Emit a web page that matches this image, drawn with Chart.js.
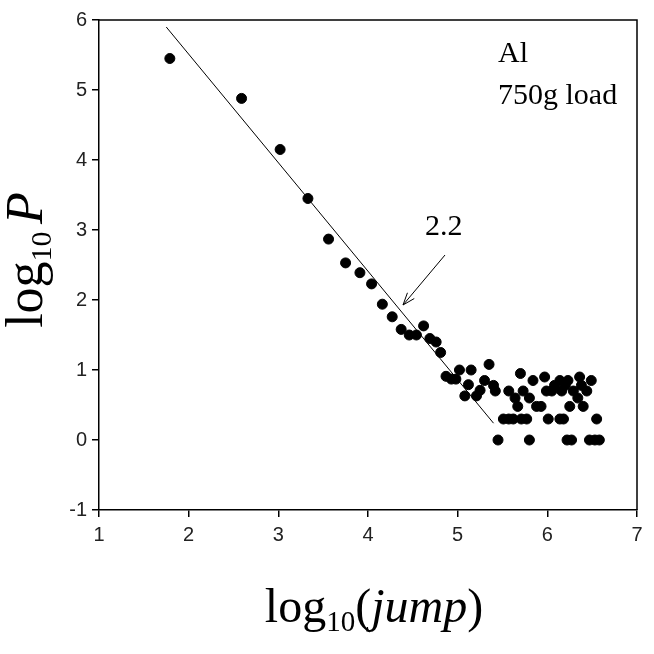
<!DOCTYPE html>
<html>
<head>
<meta charset="utf-8">
<script src="https://cdn.jsdelivr.net/npm/chart.js@4/dist/chart.umd.min.js"></script>
<style>
  html, body { margin: 0; padding: 0; background: #fff; }
  #wrap { width: 654px; height: 654px; }
</style>
</head>
<body>
<div id="wrap"><canvas id="jumpChart"></canvas></div>
<script>
// log10(jump) and log10(P)
const jumpX = [
  1.79, 2.59, 3.02, 3.33, 3.56, 3.75, 3.91, 4.04, 4.16, 4.27,
  4.37, 4.46, 4.54, 4.62, 4.69, 4.76, 4.81, 4.87, 4.93, 4.98,
  5.02, 5.08, 5.12, 5.15, 5.21, 5.25, 5.30, 5.35, 5.40, 5.42,
  5.45, 5.51, 5.57, 5.62, 5.71, 5.77, 6.01, 6.14, 6.18, 6.55,
  5.80, 6.22, 6.27, 6.47, 6.53, 6.58,
  5.57, 5.64, 5.67, 5.70, 5.73, 5.80, 5.84, 5.88, 5.93, 5.97,
  5.99, 6.05, 6.08, 6.14, 6.16, 6.20, 6.23, 6.25, 6.29, 6.34,
  6.36, 6.38, 6.40, 6.44, 6.49
];
const logP = [
  5.45, 4.88, 4.15, 3.45, 2.87, 2.53, 2.39, 2.23, 1.94, 1.76,
  1.58, 1.50, 1.50, 1.63, 1.45, 1.40, 1.25, 0.91, 0.87, 0.87,
  1.00, 0.63, 0.79, 1.00, 0.63, 0.71, 0.85, 1.08, 0.78, 0.70,
  0.00, 0.30, 0.30, 0.30, 0.30, 0.30, 0.30, 0.30, 0.30, 0.30,
  0.00, 0.00, 0.00, 0.00, 0.00, 0.00,
  0.70, 0.60, 0.48, 0.95, 0.70, 0.60, 0.85, 0.48, 0.48, 0.90,
  0.70, 0.70, 0.78, 0.85, 0.70, 0.78, 0.85, 0.48, 0.70, 0.60,
  0.90, 0.78, 0.48, 0.70, 0.85
];
// power-law fit line (slope label 2.2 on the figure)
const fitX = [1.75, 5.40];
const fitY = [5.90, 0.24];
const xTicks = [1, 2, 3, 4, 5, 6, 7];
const yTicks = [-1, 0, 1, 2, 3, 4, 5, 6];

const serif = '"Liberation Serif", "DejaVu Serif", serif';

function drawParts(ctx, parts, x, y) {
  let cx = x;
  parts.forEach(p => {
    ctx.font = p.font;
    ctx.fillText(p.text, cx, y + (p.dy || 0));
    cx += ctx.measureText(p.text).width;
  });
}
function partsWidth(ctx, parts) {
  let w = 0;
  parts.forEach(p => { ctx.font = p.font; w += ctx.measureText(p.text).width; });
  return w;
}

const decorations = {
  id: "decorations",
  afterDraw(chart) {
    const ctx = chart.ctx;
    const a = chart.chartArea;
    const ys = chart.scales.y;
    ctx.save();
    // frame top + right
    ctx.strokeStyle = "#000";
    ctx.lineWidth = 1.5;
    ctx.beginPath();
    ctx.moveTo(a.left, a.top);
    ctx.lineTo(a.right, a.top);
    ctx.lineTo(a.right, a.bottom);
    ctx.stroke();

    ctx.fillStyle = "#000";
    ctx.textBaseline = "alphabetic";
    ctx.textAlign = "left";
    // legend text
    ctx.font = "30px " + serif;
    ctx.fillText("Al", 498, 62);
    ctx.fillText("750g load", 498, 104);
    // slope label and arrow
    ctx.fillText("2.2", 425, 235);
    const x0 = 445, y0 = 255, x1 = 403, y1 = 305;
    ctx.lineWidth = 1;
    ctx.beginPath();
    ctx.moveTo(x0, y0);
    ctx.lineTo(x1, y1);
    const ang = Math.atan2(y1 - y0, x1 - x0);
    const hl = 13;
    ctx.moveTo(x1, y1);
    ctx.lineTo(x1 - hl * Math.cos(ang - 0.35), y1 - hl * Math.sin(ang - 0.35));
    ctx.moveTo(x1, y1);
    ctx.lineTo(x1 - hl * Math.cos(ang + 0.35), y1 - hl * Math.sin(ang + 0.35));
    ctx.stroke();

    // x title
    const xParts = [
      { text: "log", font: "48px " + serif },
      { text: "10", font: "29px " + serif, dy: 9 },
      { text: "(", font: "48px " + serif },
      { text: "jump", font: "italic 48px " + serif },
      { text: ")", font: "48px " + serif }
    ];
    const wx = partsWidth(ctx, xParts);
    drawParts(ctx, xParts, 374 - wx / 2, 622);

    // y title
    const yParts = [
      { text: "log", font: "52px " + serif },
      { text: "10", font: "30px " + serif, dy: 9 },
      { text: " ", font: "30px " + serif },
      { text: "P", font: "italic 52px " + serif }
    ];
    const wy = partsWidth(ctx, yParts);
    ctx.translate(42, (ys.top + ys.bottom) / 2 - 5);
    ctx.rotate(-Math.PI / 2);
    drawParts(ctx, yParts, -wy / 2, 0);
    ctx.restore();
  }
};

const tickFont = { family: '"Liberation Sans Narrow", "Arial Narrow", "Liberation Sans", Arial, sans-serif', size: 20 };

new Chart(document.getElementById("jumpChart"), {
  type: "scatter",
  data: {
    datasets: [
      {
        label: "data",
        data: jumpX.map((x, i) => ({ x: x, y: logP[i] })),
        backgroundColor: "#000",
        borderColor: "#000",
        pointRadius: 5,
        pointHoverRadius: 5
      },
      {
        label: "fit",
        data: fitX.map((x, i) => ({ x: x, y: fitY[i] })),
        showLine: true,
        borderColor: "#000",
        borderWidth: 1,
        pointRadius: 0
      }
    ]
  },
  options: {
    responsive: true,
    maintainAspectRatio: false,
    animation: false,
    layout: { padding: { top: 20, right: 17, left: 0, bottom: 0 } },
    plugins: { legend: { display: false }, tooltip: { enabled: false } },
    scales: {
      x: {
        type: "linear",
        min: 1,
        max: 7,
        afterBuildTicks: s => { s.ticks = xTicks.map(v => ({ value: v })); },
        afterFit: s => { s.height = 144; },
        ticks: { color: "#222", font: tickFont, padding: 6 },
        grid: { drawOnChartArea: false, drawTicks: true, tickLength: 7, color: "#000", lineWidth: 1.5 },
        border: { color: "#000", width: 1.5 }
      },
      y: {
        type: "linear",
        min: -1,
        max: 6,
        afterBuildTicks: s => { s.ticks = yTicks.map(v => ({ value: v })); },
        afterFit: s => { s.width = 99; },
        ticks: { color: "#222", font: tickFont, padding: 5 },
        grid: { drawOnChartArea: false, drawTicks: true, tickLength: 7, color: "#000", lineWidth: 1.5 },
        border: { color: "#000", width: 1.5 }
      }
    }
  },
  plugins: [decorations]
});
</script>
</body>
</html>
